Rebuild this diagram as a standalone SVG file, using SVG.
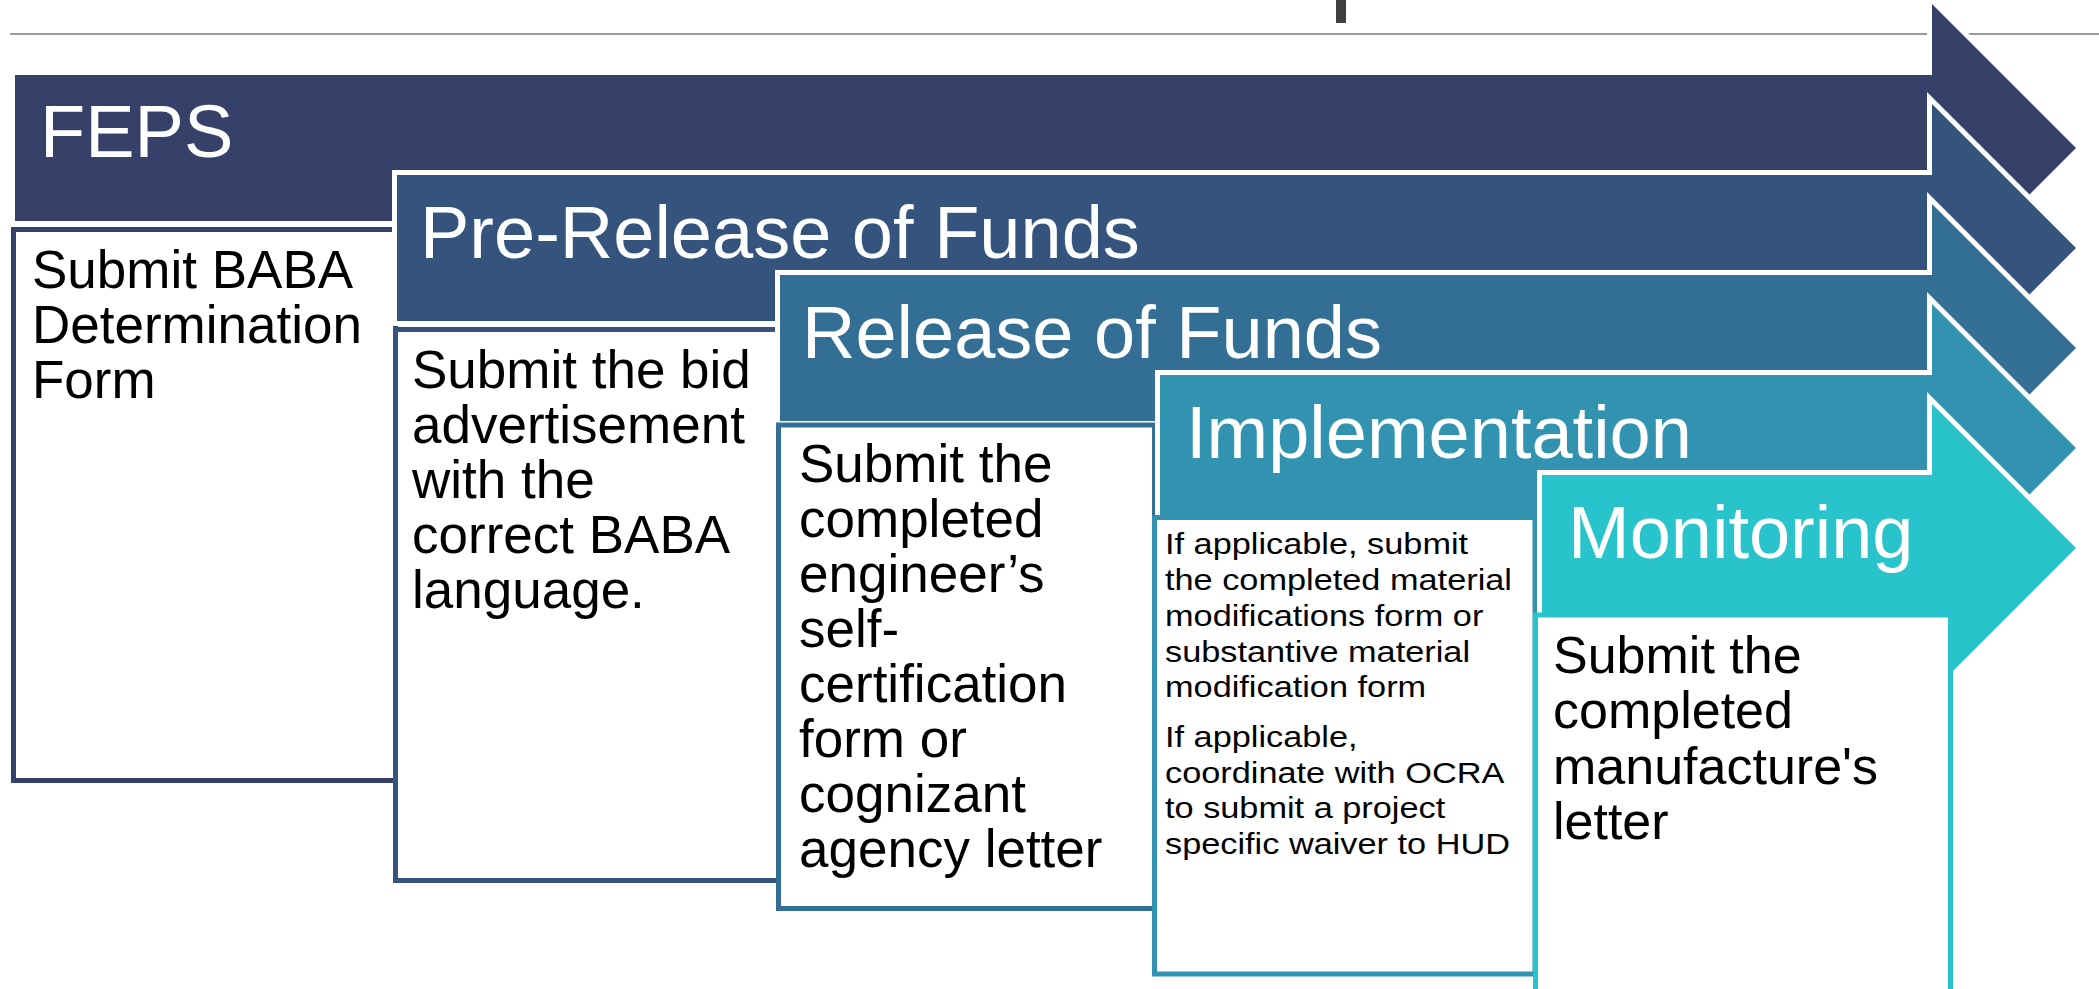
<svg xmlns="http://www.w3.org/2000/svg" width="2099" height="989" viewBox="0 0 2099 989">
<style>
.arrow{stroke:#fff;stroke-width:10;stroke-linejoin:miter;stroke-miterlimit:6;paint-order:stroke}
.box{fill:#fff;stroke-width:5}
.h{font-family:"Liberation Sans",Arial,sans-serif;font-size:74px;fill:#fff}
.b{font-family:"Liberation Sans",Arial,sans-serif;font-size:53px;fill:#000}
.s{font-family:"Liberation Sans",Arial,sans-serif;font-size:29.5px;fill:#000}
</style>
<rect width="2099" height="989" fill="#fff"/>
<line x1="10" y1="34" x2="2099" y2="34" stroke="#9a9a9a" stroke-width="2"/>
<rect x="1336" y="0" width="10" height="23" fill="#3f3f3f"/>

<g id="feps">
<polygon class="arrow" fill="#364169" points="15,75 1932,75 1932,4 2076,148 1932,292 1932,221 15,221"/>
<text class="h" x="40" y="157">FEPS</text>
<rect class="box" stroke="#364169" x="13.5" y="229.5" width="382" height="551"/>
<text class="b" x="32"><tspan x="32" y="288">Submit BABA</tspan><tspan x="32" y="343">Determination</tspan><tspan x="32" y="398">Form</tspan></text>
</g>

<g id="pre-release">
<polygon class="arrow" fill="#34547E" points="397,175 1932,175 1932,104 2076,248 1932,392 1932,321 397,321"/>
<text class="h" x="420" y="258">Pre-Release of Funds</text>
<rect class="box" stroke="#34547E" x="395.5" y="329.5" width="383" height="551"/>
<text class="b"><tspan x="412" y="388">Submit the bid</tspan><tspan x="412" y="443">advertisement</tspan><tspan x="412" y="498">with the</tspan><tspan x="412" y="553">correct BABA</tspan><tspan x="412" y="608">language.</tspan></text>
</g>

<g id="release">
<polygon class="arrow" fill="#336E94" points="780,275 1932,275 1932,204 2076,348 1932,492 1932,421 780,421"/>
<text class="h" x="802" y="358">Release of Funds</text>
<rect class="box" stroke="#336E94" x="778.5" y="425" width="376" height="483.5"/>
<text class="b"><tspan x="799" y="482">Submit the</tspan><tspan x="799" y="537">completed</tspan><tspan x="799" y="592">engineer’s</tspan><tspan x="799" y="647">self-</tspan><tspan x="799" y="702">certification</tspan><tspan x="799" y="757">form or</tspan><tspan x="799" y="812">cognizant</tspan><tspan x="799" y="867">agency letter</tspan></text>
</g>

<g id="implementation">
<polygon class="arrow" fill="#3193B0" points="1160,375 1932,375 1932,304 2076,448 1932,592 1932,521 1160,521"/>
<text class="h" x="1186" y="458">Implementation</text>
<rect class="box" stroke="#3193B0" x="1154.5" y="517.5" width="380.5" height="456.5"/>
<g transform="translate(1165,0) scale(1.163,1)">
<text class="s"><tspan x="0" y="554">If applicable, submit</tspan><tspan x="0" y="590">the completed material</tspan><tspan x="0" y="626">modifications form or</tspan><tspan x="0" y="662">substantive material</tspan><tspan x="0" y="697">modification form</tspan><tspan x="0" y="747">If applicable,</tspan><tspan x="0" y="783">coordinate with OCRA</tspan><tspan x="0" y="818">to submit a project</tspan><tspan x="0" y="854">specific waiver to HUD</tspan></text>
</g>
</g>

<g id="monitoring">
<polygon class="arrow" fill="#29C4CB" points="1542,475 1932,475 1932,404 2076,548 1932,692 1932,621 1542,621"/>
<text class="h" x="1568" y="558">Monitoring</text>
<rect class="box" stroke="#29C4CB" x="1535.5" y="615" width="415" height="400"/>
<text class="b" style="font-size:52px"><tspan x="1553" y="673">Submit the</tspan><tspan x="1553" y="728">completed</tspan><tspan x="1553" y="784">manufacture's</tspan><tspan x="1553" y="839">letter</tspan></text>
</g>

<g id="connectors"></g>
</svg>
